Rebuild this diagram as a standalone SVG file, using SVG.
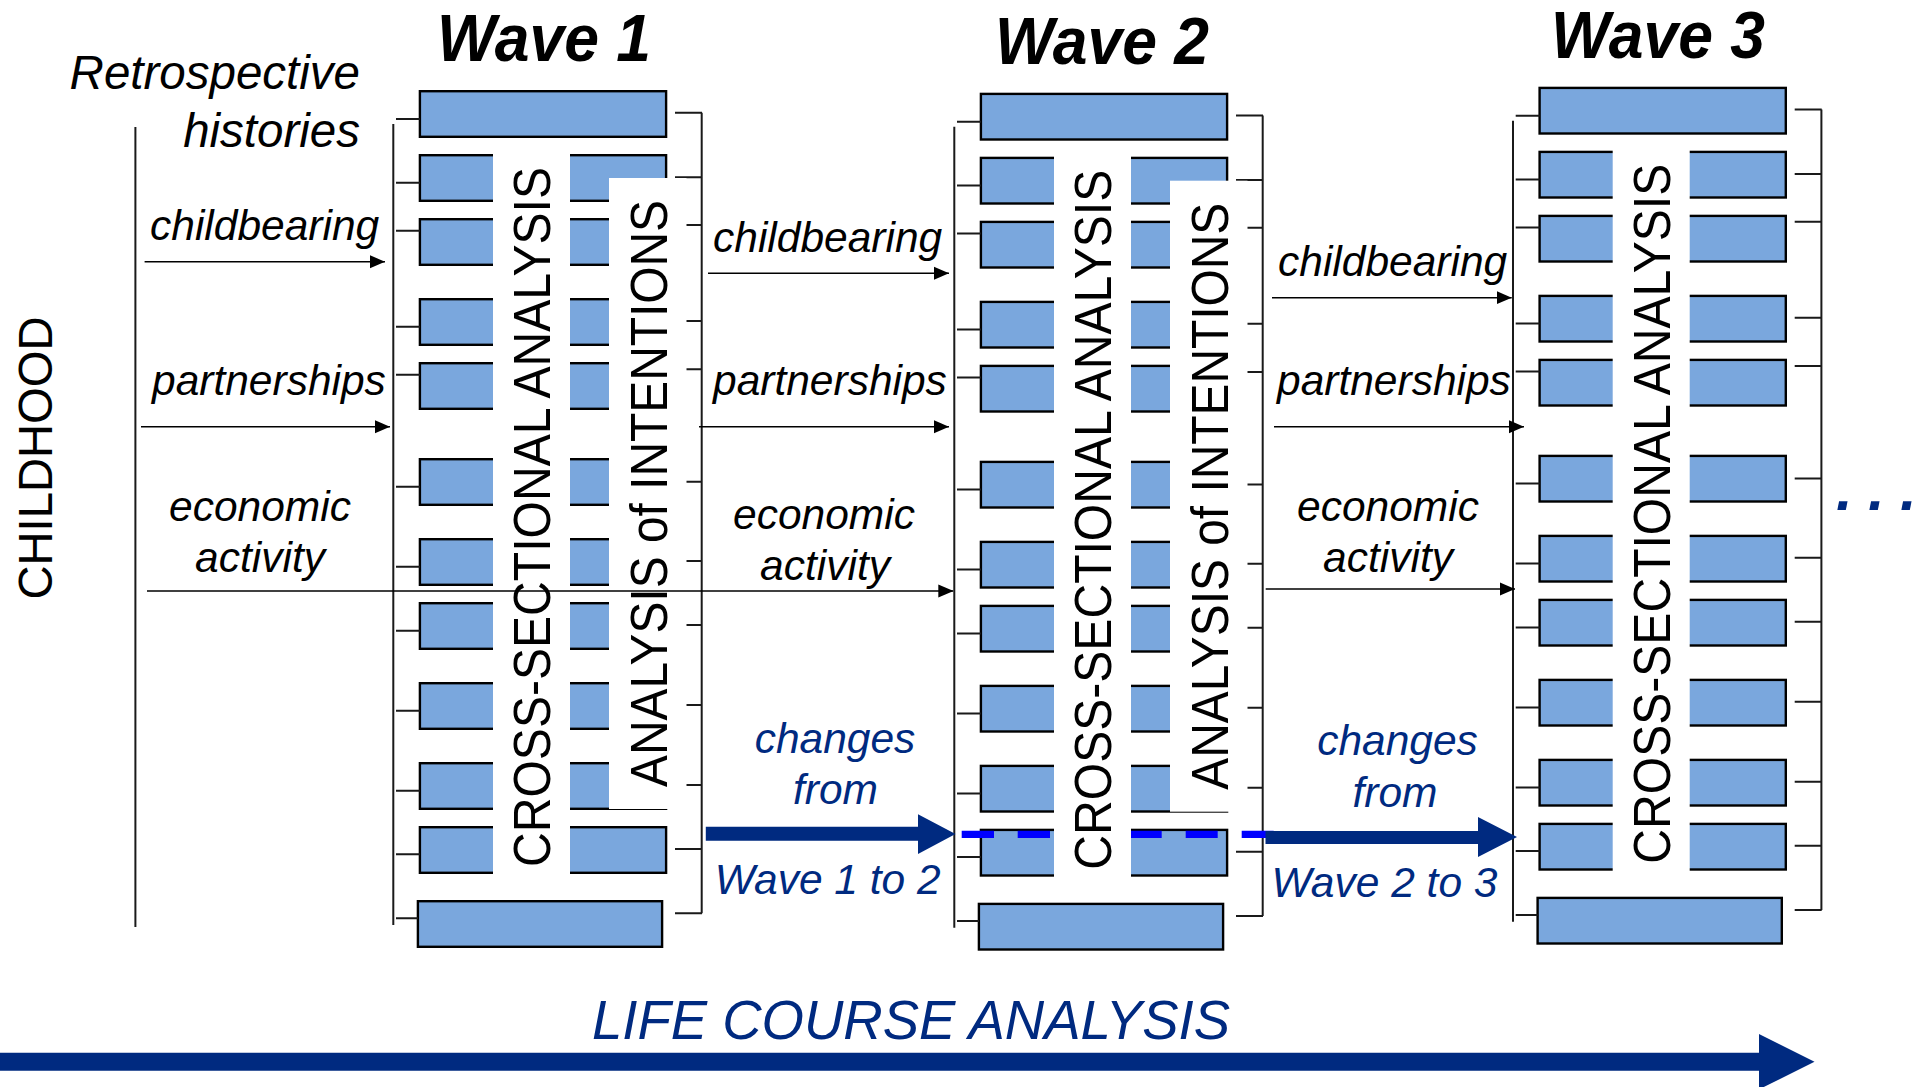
<svg xmlns="http://www.w3.org/2000/svg" xmlns:xlink="http://www.w3.org/1999/xlink" width="1925" height="1087" viewBox="0 0 1925 1087">
<style>
.bar{fill:#7AA7DD;stroke:#000;stroke-width:2.4}
.mask{fill:#fff;stroke:none}
.ln{stroke:#1a1a1a;stroke-width:2;fill:none}
.vt{font-family:"Liberation Sans",Arial,sans-serif;font-size:51px;fill:#000}
.lbl{font-family:"Liberation Sans",Arial,sans-serif;font-style:italic;font-size:42.5px;fill:#000}
.blue{font-family:"Liberation Sans",Arial,sans-serif;font-style:italic;font-size:42.5px;fill:#002A80}
.title{font-family:"Liberation Sans",Arial,sans-serif;font-style:italic;font-weight:bold;font-size:66px;fill:#000}
.conn{stroke:#000;stroke-width:1.6;fill:none;marker-end:url(#ah)}
.navy{fill:#002A80;stroke:none}
</style>
<defs>
<marker id="ah" markerUnits="userSpaceOnUse" markerWidth="15" markerHeight="14" refX="15" refY="7" orient="auto" viewBox="0 0 15 14">
<path d="M0,0.5 L15,7 L0,13.5 z" fill="#000"/>
</marker>
<g id="rows">
<rect class="bar" x="419.9" y="91.2" width="246.2" height="45.6"/>
<rect class="bar" x="419.9" y="155.2" width="246.2" height="45.6"/>
<rect class="bar" x="419.9" y="219.2" width="246.2" height="45.6"/>
<rect class="bar" x="419.9" y="299.2" width="246.2" height="45.6"/>
<rect class="bar" x="419.9" y="363.2" width="246.2" height="45.6"/>
<rect class="bar" x="419.9" y="459.2" width="246.2" height="45.6"/>
<rect class="bar" x="419.9" y="539.2" width="246.2" height="45.6"/>
<rect class="bar" x="419.9" y="603.2" width="246.2" height="45.6"/>
<rect class="bar" x="419.9" y="683.2" width="246.2" height="45.6"/>
<rect class="bar" x="419.9" y="763.2" width="246.2" height="45.6"/>
<rect class="bar" x="419.9" y="827.2" width="246.2" height="45.6"/>
<rect class="bar" x="417.9" y="901.2" width="244.2" height="45.6"/>
</g>
<path id="brackets" class="ln" d="M393.3 124V925 M396 119H420 M396 182.7H420 M396 230.7H420 M396 326.7H420 M396 374.7H420 M396 486.7H420 M396 566.7H420 M396 630.7H420 M396 710.7H420 M396 790.7H420 M396 854.3H420 M396 918.3H418 M701.7 112.7V913.3 M675 112.7H702 M675 177.3H702 M675 225H702 M675 321H702 M675 369.3H702 M675 481.7H702 M675 561H702 M675 625H702 M675 705H702 M675 785H702 M675 849H702 M675 913.3H702"/>
</defs>

<g id="childhood">
<path class="ln" d="M135.4 127V927"/>
<text class="vt" style="font-size:48px" transform="translate(51.5 458) rotate(-90)" text-anchor="middle" textLength="283" lengthAdjust="spacingAndGlyphs">CHILDHOOD</text>
</g>

<g id="retrospective">
<text class="lbl" style="font-size:47.5px" x="360" y="89.3" text-anchor="end">Retrospective</text>
<text class="lbl" style="font-size:47.5px" x="360" y="146.7" text-anchor="end">histories</text>
</g>

<g id="wave1">
<text class="title" x="437" y="61" textLength="214" lengthAdjust="spacingAndGlyphs">Wave 1</text>
<use xlink:href="#rows" href="#rows"/>
<use xlink:href="#brackets" href="#brackets"/>
<rect class="mask" x="493" y="146" width="77" height="736"/>
<rect class="mask" x="609" y="178" width="77.5" height="631"/>
<text class="vt" transform="translate(550 517) rotate(-90)" text-anchor="middle" textLength="700" lengthAdjust="spacingAndGlyphs">CROSS-SECTIONAL ANALYSIS</text>
<text class="vt" transform="translate(666.5 493.5) rotate(-90)" text-anchor="middle" textLength="587" lengthAdjust="spacingAndGlyphs">ANALYSIS of INTENTIONS</text>
</g>

<g id="wave2">
<text class="title" x="995" y="63.8" textLength="214" lengthAdjust="spacingAndGlyphs">Wave 2</text>
<g transform="translate(561 2.7)">
<use xlink:href="#rows" href="#rows"/>
<use xlink:href="#brackets" href="#brackets"/>
<rect class="mask" x="493" y="146" width="77" height="736"/>
<rect class="mask" x="609" y="178" width="77.5" height="631"/>
<text class="vt" transform="translate(550 517) rotate(-90)" text-anchor="middle" textLength="700" lengthAdjust="spacingAndGlyphs">CROSS-SECTIONAL ANALYSIS</text>
<text class="vt" transform="translate(666.5 493.5) rotate(-90)" text-anchor="middle" textLength="587" lengthAdjust="spacingAndGlyphs">ANALYSIS of INTENTIONS</text>
</g>
</g>

<g id="wave3">
<text class="title" x="1551" y="57.7" textLength="214" lengthAdjust="spacingAndGlyphs">Wave 3</text>
<g transform="translate(1119.7 -3.3)">
<use xlink:href="#rows" href="#rows"/>
<use xlink:href="#brackets" href="#brackets"/>
<rect class="mask" x="493" y="146" width="77" height="736"/>
<text class="vt" transform="translate(550 517) rotate(-90)" text-anchor="middle" textLength="700" lengthAdjust="spacingAndGlyphs">CROSS-SECTIONAL ANALYSIS</text>
</g>
</g>

<g id="labels">
<text class="lbl" x="150" y="240">childbearing</text>
<text class="lbl" x="152" y="395">partnerships</text>
<text class="lbl" x="260" y="521" text-anchor="middle">economic</text>
<text class="lbl" x="260" y="572" text-anchor="middle">activity</text>
<text class="lbl" x="713" y="251.6">childbearing</text>
<text class="lbl" x="713" y="395">partnerships</text>
<text class="lbl" x="824" y="528.5" text-anchor="middle">economic</text>
<text class="lbl" x="825" y="579.5" text-anchor="middle">activity</text>
<text class="lbl" x="1278" y="275.5">childbearing</text>
<text class="lbl" x="1277" y="395">partnerships</text>
<text class="lbl" x="1388" y="521" text-anchor="middle">economic</text>
<text class="lbl" x="1388" y="572" text-anchor="middle">activity</text>
<text class="blue" x="835" y="753.3" text-anchor="middle">changes</text>
<text class="blue" x="835.5" y="804" text-anchor="middle">from</text>
<text class="blue" x="827.7" y="894" text-anchor="middle">Wave 1 to 2</text>
<text class="blue" x="1397.5" y="755" text-anchor="middle">changes</text>
<text class="blue" x="1395" y="807" text-anchor="middle">from</text>
<text class="blue" x="1384.5" y="896.7" text-anchor="middle">Wave 2 to 3</text>
<text class="blue" style="font-size:55px" x="592" y="1039.3" textLength="638" lengthAdjust="spacingAndGlyphs">LIFE COURSE ANALYSIS</text>
<text class="blue" style="font-size:60px;font-weight:bold" x="1836 1868 1900" y="510">...</text>
</g>

<g id="connectors">
<path class="conn" d="M144.6 261.7H385"/>
<path class="conn" d="M141 426.7H390"/>
<path class="conn" d="M147 591H953.3"/>
<path class="conn" d="M708 273.3H949"/>
<path class="conn" d="M699 426.7H949"/>
<path class="conn" d="M1272 297.7H1511.7"/>
<path class="conn" d="M1274 426.7H1524"/>
<path class="conn" d="M1265.7 589H1515"/>
<path d="M961.7 834.3H994 M1017.7 834.3H1050 M1131 834.3H1161.7 M1185.7 834.3H1217.7 M1241.7 834.3H1273.7" stroke="#0000FF" stroke-width="7.3" fill="none"/>
<polygon class="navy" points="705.8,826.7 918,826.7 918,814.3 955.5,834 918,854 918,840.7 705.8,840.7"/>
<polygon class="navy" points="1265.5,831 1478,831 1478,817 1517,837 1478,857 1478,844 1265.5,844"/>
<polygon class="navy" points="0,1052.7 1759,1052.7 1759,1034 1814.5,1061.7 1759,1089.4 1759,1070.7 0,1070.7"/>
</g>
</svg>
